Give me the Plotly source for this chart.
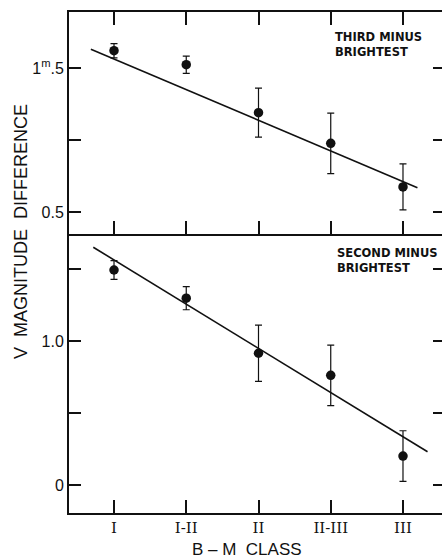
import plotly.graph_objects as go

classes = ["I", "I-II", "II", "II-III", "III"]
xpos = [0, 1, 2, 3, 4]

# Top panel: third minus brightest
third_y = [1.62, 1.523, 1.19, 0.977, 0.674]
third_err = [0.05, 0.06, 0.17, 0.21, 0.16]
third_line_x = [-0.32, 4.2]
third_line_y = [1.630, 0.669]

# Bottom panel: second minus brightest
second_y = [1.495, 1.299, 0.917, 0.764, 0.203]
second_err = [0.065, 0.08, 0.195, 0.21, 0.176]
second_line_x = [-0.287, 4.34]
second_line_y = [1.653, 0.233]

top_ticks = [0.5, 1.0, 1.5]
top_label_vals = [0.5, 1.5]
top_label_text = ["0.5", "1<sup>m</sup>.5"]
bot_ticks = [0, 0.5, 1.0, 1.5]
bot_label_vals = [0, 1.0]
bot_label_text = ["0", "1.0"]

BLK = "#111111"
fig = go.Figure()

def add_panel(ys, errs, lx, ly, xa, ya):
    fig.add_trace(go.Scatter(x=lx, y=ly, mode="lines", line=dict(color=BLK, width=1.6),
                             xaxis=xa, yaxis=ya, showlegend=False, hoverinfo="skip"))
    fig.add_trace(go.Scatter(x=xpos, y=ys, mode="markers",
                             marker=dict(color=BLK, size=9.5),
                             error_y=dict(type="data", array=errs, visible=True,
                                          color=BLK, thickness=1.2, width=3.5),
                             xaxis=xa, yaxis=ya, showlegend=False))

add_panel(third_y, third_err, third_line_x, third_line_y, "x", "y")
add_panel(second_y, second_err, second_line_x, second_line_y, "x2", "y2")

xr = [-0.623, 4.54]
split = 0.5569
top_range = [0.347, 1.889]
bot_range = [-0.192, 1.745]
tickfont = dict(family="Liberation Sans, Arial, sans-serif", size=16, color=BLK)
tick_common = dict(ticks="inside", ticklen=12, tickwidth=1.5, tickcolor=BLK,
                   showgrid=False, zeroline=False)

fig.update_layout(
    width=442, height=560,
    margin=dict(l=69, r=0, t=12, b=47),
    paper_bgcolor="white", plot_bgcolor="white",
    xaxis=dict(domain=[0, 1], anchor="y", range=xr, tickvals=xpos, showticklabels=False,
               ticks="inside", ticklen=13, tickwidth=1.5, tickcolor=BLK,
               showline=True, linewidth=2, linecolor=BLK, mirror="ticks",
               showgrid=False, zeroline=False),
    yaxis=dict(domain=[split, 1], anchor="x", range=top_range, tickvals=top_label_vals,
               ticktext=top_label_text, showline=True, linewidth=2, linecolor=BLK,
               tickfont=tickfont, **tick_common),
    yaxis3=dict(overlaying="y", side="right", anchor="x", range=top_range, tickvals=top_ticks,
                showticklabels=False, showline=False, **dict(tick_common, ticklen=9)),
    yaxis5=dict(overlaying="y", side="left", anchor="x", range=top_range, tickvals=top_ticks,
                showticklabels=False, showline=False, **tick_common),
    xaxis2=dict(domain=[0, 1], anchor="y2", range=xr, tickvals=xpos, ticktext=classes,
                ticks="inside", ticklen=13, tickwidth=1.5, tickcolor=BLK,
                showline=True, linewidth=2, linecolor=BLK, showgrid=False, zeroline=False,
                tickfont=dict(family="DejaVu Serif, serif", size=15, color=BLK)),
    yaxis2=dict(domain=[0, split], anchor="x2", range=bot_range, tickvals=bot_label_vals,
                ticktext=bot_label_text, showline=True, linewidth=2, linecolor=BLK,
                tickfont=tickfont, **tick_common),
    yaxis4=dict(overlaying="y2", side="right", anchor="x2", range=bot_range, tickvals=bot_ticks,
                showticklabels=False, showline=False, **dict(tick_common, ticklen=9)),
    yaxis6=dict(overlaying="y2", side="left", anchor="x2", range=bot_range, tickvals=bot_ticks,
                showticklabels=False, showline=False, **tick_common),
)

# invisible helper traces to activate the tick-only overlay axes
for xa, ya in [("x", "y3"), ("x", "y5"), ("x2", "y4"), ("x2", "y6")]:
    fig.add_trace(go.Scatter(x=[0], y=[1.0], xaxis=xa, yaxis=ya, mode="markers",
                             marker=dict(opacity=0), showlegend=False, hoverinfo="skip"))

def py(pix):
    return (513 - pix) / 501

def px(pix):
    return (pix - 69) / 373

lblfont = dict(family="DejaVu Sans, sans-serif", size=11.5, color=BLK)
fig.add_annotation(text="<b>THIRD MINUS<br>BRIGHTEST</b>", xref="paper", yref="paper",
                   x=px(333), y=py(45), xanchor="left", yanchor="middle",
                   showarrow=False, align="left", font=lblfont)
fig.add_annotation(text="<b>SECOND MINUS<br>BRIGHTEST</b>", xref="paper", yref="paper",
                   x=px(335), y=py(260), xanchor="left", yanchor="middle",
                   showarrow=False, align="left", font=lblfont)

titlefont = dict(family="Liberation Sans, Arial, sans-serif", size=18, color=BLK)
fig.add_annotation(text="V  MAGNITUDE  DIFFERENCE", xref="paper", yref="paper",
                   x=px(21), y=py(232), textangle=-90,
                   xanchor="center", yanchor="middle", showarrow=False, font=titlefont)
fig.add_annotation(text="B – M  CLASS", xref="paper", yref="paper",
                   x=px(247), y=py(549),
                   xanchor="center", yanchor="middle", showarrow=False,
                   font=dict(family="Liberation Sans, Arial, sans-serif", size=17, color=BLK))

fig.write_html("out.html")
